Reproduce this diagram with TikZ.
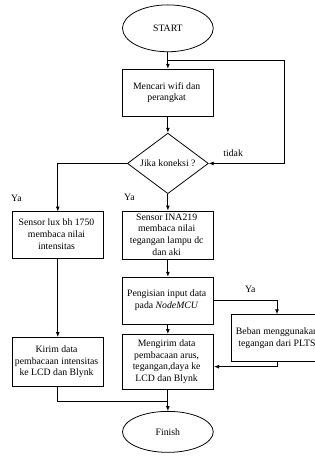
\documentclass[tikz,border=0pt]{standalone}
\usepackage{fontspec}
\setmainfont{Liberation Serif}
\usetikzlibrary{arrows.meta,positioning,matrix,shapes.geometric}
\newcommand{\stack}[1]{\begin{tabular}{@{}c@{}}#1\end{tabular}}

\begin{document}
\begin{tikzpicture}[
font=\fontsize{10pt}{12pt}\selectfont,
line width=0.8pt,
term/.style={draw, ellipse, minimum width=93pt, minimum height=48pt, inner sep=0pt},
proc/.style={draw, rectangle, align=center, minimum width=94pt, minimum height=48pt, inner xsep=2pt, inner ysep=1pt},
cond/.style={draw, diamond, aspect=1.3, minimum width=83pt, minimum height=62pt, inner sep=0pt},
lbl/.style={inner sep=0pt},
arr/.style={-{Latex[length=5pt, width=4pt]}}]
\matrix (m) [matrix of nodes,
row sep=17pt, column sep=18pt,
nodes={anchor=center}]{
                                                    & |[term]| START                                      \\
                                                    & |[proc]| \stack{Mencari wifi dan\\perangkat}        \\
                                                    & |[cond]| Jika koneksi ?                             \\
|[proc]| \stack{Sensor lux bh 1750\\membaca nilai\\intensitas}
                                                    & |[proc]| \stack{Sensor INA219\\membaca nilai\\tegangan lampu dc\\dan aki} \\
                                                    & |[proc]| \stack{Pengisian input data\\pada \textit{NodeMCU}} \\[-7pt]
|[proc, minimum height=50pt]| \stack{Kirim data\\pembacaan intensitas\\ke LCD dan Blynk}
                                                    & |[proc, minimum height=56pt]| \stack{Mengirim data\\pembacaan arus,\\tegangan,daya ke\\LCD dan Blynk} \\[5pt]
                                                    & |[term, minimum height=42pt]| Finish                \\
};
\useasboundingbox ([shift={(-172pt,29pt)}]m-1-2.center) rectangle ++(322pt,-456pt);

\node[proc, anchor=north west] (beban) at ([xshift=17pt,yshift=-14pt]m-5-2.east) {Beban menggunakan\\tegangan dari PLTS};
\coordinate (loop) at ([yshift=9pt]m-2-2.north);
\coordinate (join) at ([yshift=10pt]m-7-2.north);

\path[arr]
(m-1-2) edge (m-2-2)
(m-2-2) edge (m-3-2)
(m-3-2) edge (m-4-2)
(m-4-2) edge (m-5-2)
(m-5-2) edge (m-6-2)
(m-4-1) edge (m-6-1)
(m-6-2) edge (m-7-2);
\draw[arr] (loop) -| ([xshift=77pt]m-3-2.east) -- (m-3-2.east);
\draw[arr] (m-3-2.west) -| (m-4-1.north);
\draw[arr] (m-5-2.east) -| (beban.north);
\draw[arr] (beban.south) |- ([yshift=-5pt]m-6-2.east);
\draw (m-6-1.south) |- (join);

\node[lbl] (tidak) at ([xshift=25pt,yshift=11pt]m-3-2.east) {tidak};
\node[lbl] (ya1) at ([xshift=5pt,yshift=13pt]m-4-1.north west) {Ya};
\node[lbl] (ya2) at ([xshift=8pt,yshift=13pt]m-4-2.north west) {Ya};
\node[lbl] (ya3) at ([xshift=37pt,yshift=11pt]m-5-2.east) {Ya};
\end{tikzpicture}
\end{document}
